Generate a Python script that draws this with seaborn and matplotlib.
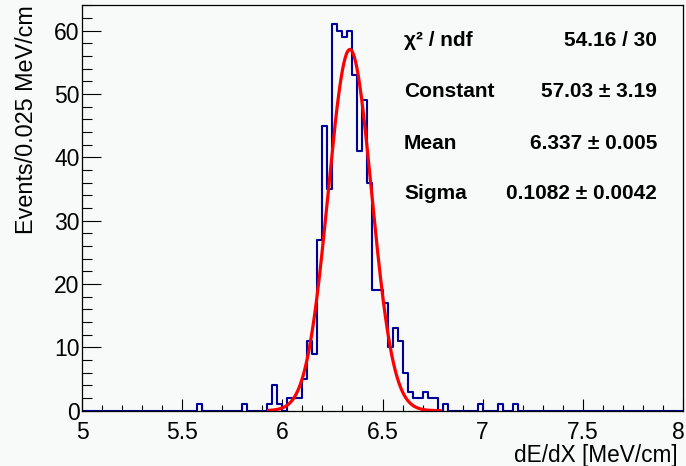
"""dE/dX distribution with Gaussian fit, ROOT-like look."""
import matplotlib
matplotlib.use("Agg")
import matplotlib.pyplot as plt
import matplotlib.transforms as mtransforms
import numpy as np
import pandas as pd
import seaborn as sns
from matplotlib.ticker import FuncFormatter, MultipleLocator

sns.set_theme(style="ticks")
plt.rcParams["font.family"] = ["Liberation Sans", "DejaVu Sans"]

BG = "#f7faf8"
HIST_COLOR = "#000099"
FIT_COLOR = "#ff0000"

# ----- data -----------------------------------------------------------------
BIN_WIDTH = 0.025
X_MIN, X_MAX = 5.0, 8.0

# non-empty bins: lower edge (MeV/cm) and entries
bin_low = [5.575, 5.800, 5.925, 5.950, 5.975, 6.025, 6.050, 6.075,
           6.100, 6.125, 6.150, 6.175, 6.200, 6.225, 6.250, 6.275,
           6.300, 6.325, 6.350, 6.375, 6.400, 6.425, 6.450, 6.475,
           6.500, 6.525, 6.550, 6.575, 6.600, 6.625, 6.650, 6.675,
           6.700, 6.725, 6.750, 6.800, 6.975, 7.075, 7.150]
entries = [1, 1, 1, 4, 1, 2, 2, 2,
           5, 11, 9, 27, 45, 35, 61, 60,
           59, 60, 53, 41, 49, 36, 19, 19,
           17, 10, 13, 11, 6, 3, 2, 2,
           3, 2, 2, 1, 1, 1, 1]

# Gaussian fit result
FIT_CONST = 57.03
FIT_MEAN = 6.337
FIT_SIGMA = 0.1082
FIT_RANGE = (5.93, 6.79)

stat_names = ["χ² / ndf", "Constant", "Mean", "Sigma"]
stat_values = ["54.16 / 30", "57.03 ± 3.19", "6.337 ± 0.005", "0.1082 ± 0.0042"]

# ----- figure ---------------------------------------------------------------
W, H = 686, 466
fig = plt.figure(figsize=(W / 100, H / 100), dpi=100, facecolor=BG)
ax = fig.add_axes([82.3 / W, 1 - 410.7 / H, 600.4 / W, 405.7 / H])
ax.set_facecolor(BG)

hist_df = pd.DataFrame({"x": np.array(bin_low) + BIN_WIDTH / 2,
                        "w": np.array(entries, dtype=float)})
sns.histplot(data=hist_df, x="x", weights="w", binwidth=BIN_WIDTH,
             binrange=(X_MIN, X_MAX), element="step", fill=False,
             color=HIST_COLOR, linewidth=1.5, ax=ax)

xs = np.linspace(FIT_RANGE[0], FIT_RANGE[1], 400)
ys = FIT_CONST * np.exp(-0.5 * ((xs - FIT_MEAN) / FIT_SIGMA) ** 2)
sns.lineplot(x=xs, y=ys, color=FIT_COLOR, linewidth=2.3, ax=ax)

ax.set_xlim(X_MIN, X_MAX)
ax.set_ylim(0, max(entries) * 1.05)
ax.xaxis.set_major_locator(MultipleLocator(0.5))
ax.xaxis.set_minor_locator(MultipleLocator(0.1))
ax.xaxis.set_major_formatter(FuncFormatter(lambda v, _: f"{v:g}"))
ax.yaxis.set_major_locator(MultipleLocator(10))
ax.yaxis.set_minor_locator(MultipleLocator(2))
ax.tick_params(which="both", direction="in", top=False, right=False,
               color="black", width=0.8, labelsize=16.5, labelcolor="black")
ax.tick_params(axis="x", which="major", length=8.6, pad=7.5)
ax.tick_params(axis="x", which="minor", length=4.3)
ax.tick_params(axis="y", which="major", length=13.5, pad=2)
ax.tick_params(axis="y", which="minor", length=7)
for s in ax.spines.values():
    s.set_color("black")
    s.set_linewidth(0.9)

ax.set_xlabel("dE/dX [MeV/cm]", fontsize=16.3, loc="right", color="black")
ax.set_ylabel("Events/0.025 MeV/cm", fontsize=16.8, loc="top", color="black")
ax.xaxis.set_label_coords(0.992, -0.082)
ax.yaxis.set_label_coords(-0.074, 1.0)

# keep the last x label ("8") inside the canvas
fig.canvas.draw()
last = [t for t in ax.xaxis.get_major_ticks() if t.label1.get_text() == "8"]
for t in last:
    t.label1.set_transform(t.label1.get_transform()
                           + mtransforms.ScaledTranslation(-4 / 100, 0,
                                                           fig.dpi_scale_trans))

# fit statistics
rows_y = [40, 91.7, 143.3, 193.3]
for name, val, yp in zip(stat_names, stat_values, rows_y):
    fig.text(404 / W, 1 - yp / H, name, fontsize=15, fontweight="bold",
             ha="left", va="center", color="black")
    fig.text(657 / W, 1 - yp / H, val, fontsize=15, fontweight="bold",
             ha="right", va="center", color="black")

fig.savefig("out.png", dpi=100, facecolor=BG)
